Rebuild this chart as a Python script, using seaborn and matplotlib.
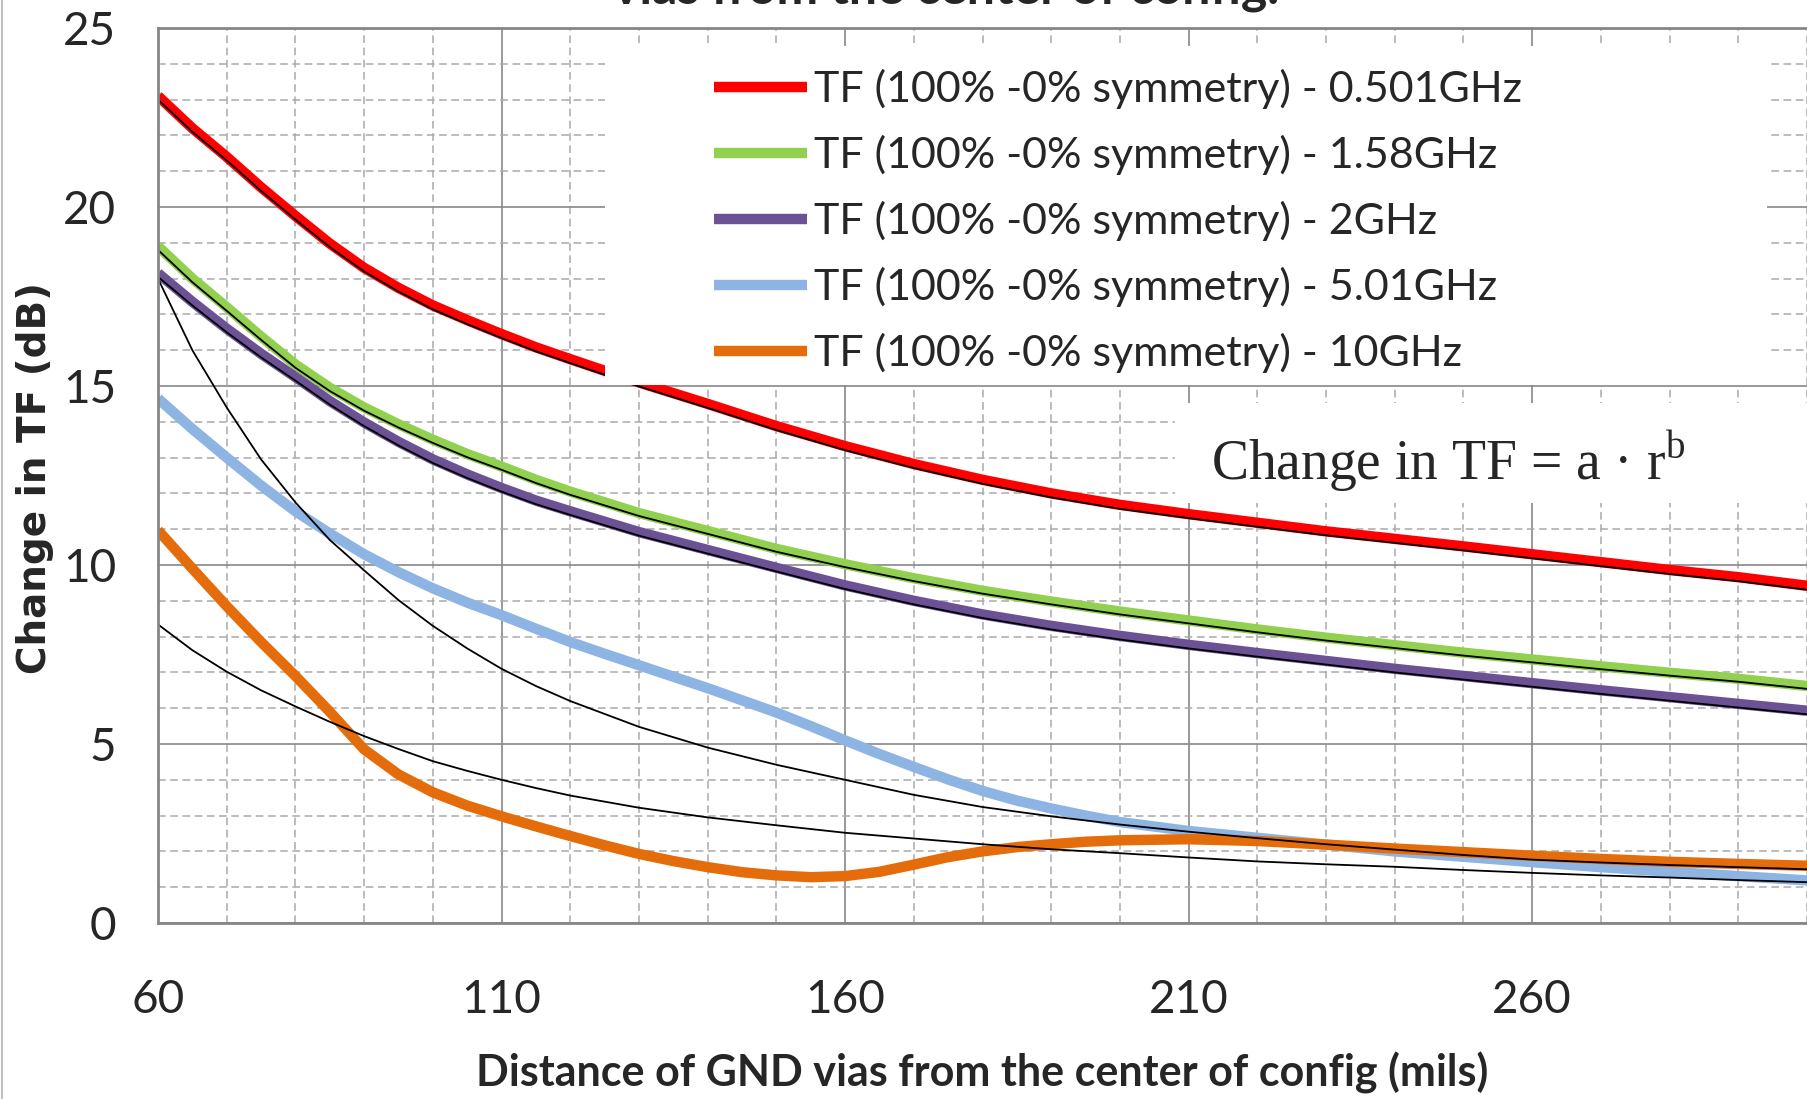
import matplotlib
matplotlib.use("Agg")
import matplotlib.pyplot as plt
from matplotlib.patches import Rectangle
from matplotlib.lines import Line2D
import numpy as np
import pandas as pd
import seaborn as sns

# ---------------- data ----------------
distance_fine = [60, 65, 70, 75, 80, 85, 90, 95, 100, 105, 110, 115, 120,
                 130, 140, 150, 160, 170, 180, 190, 200, 210, 220, 230, 240,
                 250, 260, 270, 280, 290, 300]
distance_dense = [60, 65, 70, 75, 80, 85, 90, 95, 100, 105, 110, 115, 120, 125, 130, 135,
                  140, 145, 150, 155, 160, 165, 170, 175, 180, 185, 190, 195, 200,
                  210, 220, 230, 240, 250, 260, 270, 280, 290, 300]

tf_0501 = [23.1, 22.2, 21.4, 20.55, 19.75, 18.98, 18.3, 17.74, 17.25, 16.84, 16.45, 16.08, 15.75,
           15.1, 14.5, 13.88, 13.32, 12.82, 12.38, 12.0, 11.68, 11.42, 11.18, 10.94, 10.73,
           10.52, 10.3, 10.08, 9.86, 9.66, 9.42]
tf_158 = [18.9, 18.0, 17.2, 16.38, 15.6, 14.95, 14.4, 13.93, 13.5, 13.1, 12.75, 12.38, 12.05,
          11.45, 10.95, 10.45, 10.02, 9.63, 9.28, 8.98, 8.7, 8.45, 8.2, 7.97, 7.76,
          7.55, 7.36, 7.17, 6.99, 6.82, 6.62]
tf_2 = [18.15, 17.35, 16.6, 15.9, 15.25, 14.58, 13.98, 13.44, 12.95, 12.53, 12.15, 11.8, 11.5,
        10.92, 10.42, 9.92, 9.43, 9.0, 8.62, 8.3, 8.02, 7.77, 7.54, 7.32, 7.1,
        6.9, 6.7, 6.5, 6.31, 6.12, 5.93]
tf_501 = [14.65, 13.8, 13.0, 12.22, 11.5, 10.88, 10.3, 9.8, 9.35, 8.95, 8.6, 8.22, 7.85, 7.52,
          7.2, 6.88, 6.56, 6.22, 5.88, 5.5, 5.1, 4.72, 4.36, 4.01, 3.69, 3.42, 3.2, 3.0, 2.82,
          2.57, 2.38, 2.19, 2.0, 1.85, 1.7, 1.56, 1.43, 1.31, 1.19]
tf_10 = [10.97, 9.9, 8.85, 7.85, 6.9, 5.9, 4.85, 4.15, 3.65, 3.28, 2.98, 2.7, 2.43, 2.17, 1.93, 1.73,
         1.56, 1.42, 1.33, 1.28, 1.31, 1.43, 1.63, 1.84, 2.0, 2.12, 2.2, 2.27, 2.31,
         2.34, 2.29, 2.19, 2.08, 1.98, 1.88, 1.79, 1.71, 1.65, 1.6]

# power-law trend lines (thin black)
fit_0501 = [23.0, 22.1, 21.3, 20.45, 19.65, 18.88, 18.2, 17.64, 17.14, 16.73, 16.34, 15.97, 15.64,
            14.99, 14.39, 13.77, 13.21, 12.71, 12.27, 11.89, 11.57, 11.31, 11.07, 10.83, 10.62,
            10.41, 10.19, 9.97, 9.75, 9.55, 9.31]
fit_158 = [18.8, 17.9, 17.1, 16.29, 15.51, 14.86, 14.31, 13.84, 13.41, 13.01, 12.66, 12.29, 11.96,
           11.37, 10.87, 10.37, 9.94, 9.55, 9.2, 8.9, 8.62, 8.37, 8.12, 7.89, 7.68,
           7.47, 7.28, 7.09, 6.91, 6.74, 6.54]
fit_2 = [18.05, 17.25, 16.5, 15.8, 15.15, 14.48, 13.88, 13.34, 12.85, 12.43, 12.05, 11.7, 11.4,
         10.82, 10.32, 9.82, 9.33, 8.9, 8.52, 8.2, 7.92, 7.67, 7.44, 7.22, 7.0,
         6.8, 6.6, 6.4, 6.21, 6.02, 5.83]
fit_501 = [18.0, 16.0, 14.4, 12.95, 11.75, 10.7, 9.85, 9.02, 8.3, 7.67, 7.1, 6.62, 6.2,
           5.48, 4.9, 4.42, 4.0, 3.58, 3.24, 2.98, 2.75, 2.55, 2.37, 2.2, 2.05,
           1.9, 1.77, 1.69, 1.62, 1.56, 1.5]
fit_10 = [8.34, 7.62, 7.02, 6.5, 6.05, 5.62, 5.22, 4.86, 4.52, 4.25, 4.0, 3.77, 3.56,
          3.22, 2.95, 2.73, 2.52, 2.36, 2.2, 2.06, 1.95, 1.83, 1.72, 1.64, 1.57,
          1.48, 1.4, 1.33, 1.27, 1.2, 1.14]

series_labels = ["TF (100% -0% symmetry) - 0.501GHz",
                 "TF (100% -0% symmetry) - 1.58GHz",
                 "TF (100% -0% symmetry) - 2GHz",
                 "TF (100% -0% symmetry) - 5.01GHz",
                 "TF (100% -0% symmetry) - 10GHz"]
x_ticks = [60, 110, 160, 210, 260]
y_ticks = [0, 5, 10, 15, 20, 25]

# ---------------- style ----------------
sns.set_style("white")
plt.rcParams['font.family'] = ['Lato', 'DejaVu Sans']
plt.rcParams['mathtext.fontset'] = 'custom'
plt.rcParams['mathtext.rm'] = 'Liberation Serif'

colors = ["#FF0000", "#92D050", "#6A5294", "#8DB4E2", "#E46C0A"]

fig = plt.figure(figsize=(18.07, 10.99), dpi=100)
W, H = 1807, 1099
ax = fig.add_axes([158 / W, 1 - 923 / H, 1649 / W, 895 / H])

data_series = [(distance_fine, tf_0501), (distance_fine, tf_158), (distance_fine, tf_2),
               (distance_dense, tf_501), (distance_dense, tf_10)]
fit_series = [(distance_fine, fit_0501), (distance_fine, fit_158), (distance_fine, fit_2),
              (distance_fine, fit_501), (distance_fine, fit_10)]

handles = []
for (xs, vals), col, lab in zip(data_series, colors, series_labels):
    df = pd.DataFrame({"distance": xs, "tf": vals})
    n0 = len(ax.lines)
    sns.lineplot(data=df, x="distance", y="tf", color=col, lw=7.5, ax=ax,
                 sort=False, legend=False, zorder=2,
                 solid_joinstyle='round', solid_capstyle='butt')
    ln = ax.lines[n0]
    ln.set_label(lab)
    handles.append(ln)

for xs, vals in fit_series:
    df = pd.DataFrame({"distance": xs, "tf": vals})
    sns.lineplot(data=df, x="distance", y="tf", color="black", lw=1.3, ax=ax,
                 sort=False, legend=False, zorder=2.5)

ax.set_xlim(60, 300)
ax.set_ylim(0, 25)
ax.set_xticks(x_ticks)
ax.set_xticklabels([str(v) for v in x_ticks])
ax.set_yticks(y_ticks)
ax.set_yticklabels([str(v) for v in y_ticks])
ax.set_xticks(np.arange(60, 301, 10), minor=True)
ax.set_yticks(np.arange(0, 26, 1), minor=True)
ax.set_axisbelow(True)
ax.grid(which='major', color='#878787', lw=1.2, ls='-')
ax.grid(which='minor', color='#a9a9a9', lw=1.1, ls=(0, (5, 3)))
ax.tick_params(which='both', length=0)
ax.tick_params(axis='x', labelsize=33, pad=40)
ax.tick_params(axis='y', labelsize=33, pad=30)

for s in ['left', 'top', 'bottom']:
    ax.spines[s].set_color('#868686')
    ax.spines[s].set_linewidth(2)
ax.spines['right'].set_visible(False)

ax.set_xlabel("Distance of GND vias from the center of config (mils)",
              fontsize=31, fontweight='bold', va='center')
ax.xaxis.set_label_coords(0.5, (923 - 1073) / 895)
ax.set_ylabel("Change in TF (dB)", fontsize=28, fontweight='bold',
              family=['DejaVu Sans'], va='center')
ax.yaxis.set_label_coords((35 - 158) / 1649, (923 - 478) / 895)

# white legend box and formula box
ax.add_patch(Rectangle(((605 - 158) / 1649, (923 - 385) / 895),
                       (1767 - 605) / 1649, (385 - 46) / 895,
                       transform=ax.transAxes, facecolor='white',
                       edgecolor='none', zorder=4))
ax.add_patch(Rectangle(((1175 - 158) / 1649, (923 - 503) / 895),
                       (1807 - 1175) / 1649, (503 - 403) / 895,
                       transform=ax.transAxes, facecolor='white',
                       edgecolor='none', zorder=4, clip_on=False))

leg = ax.legend(handles=handles, labels=series_labels, loc='upper left',
                bbox_to_anchor=((714 - 158) / 1649, (923 - 69) / 895),
                frameon=False, fontsize=31, handlelength=2.15,
                handletextpad=0.17, labelspacing=0.6, borderpad=0,
                borderaxespad=0)
leg.set_zorder(5)
for lh in leg.get_lines():
    lh.set_linewidth(7.5)

ax.text((1211 - 158) / 1649, (923 - 480) / 895,
        "Change in TF = a \u00b7 r$^{\\mathregular{b}}$",
        transform=ax.transAxes, ha='left', va='baseline', fontsize=40,
        family=['Liberation Serif', 'DejaVu Serif'], zorder=6)

fig.text(946 / W, 1 - 4 / H, "vias from the center of config.", ha='center',
         va='baseline', fontsize=36, fontweight='bold')

fig.add_artist(Line2D([1.5 / W, 1.5 / W], [0, 1], color='#bfbfbf', lw=1.5,
                      transform=fig.transFigure))

fig.savefig("out.png", dpi=100)
